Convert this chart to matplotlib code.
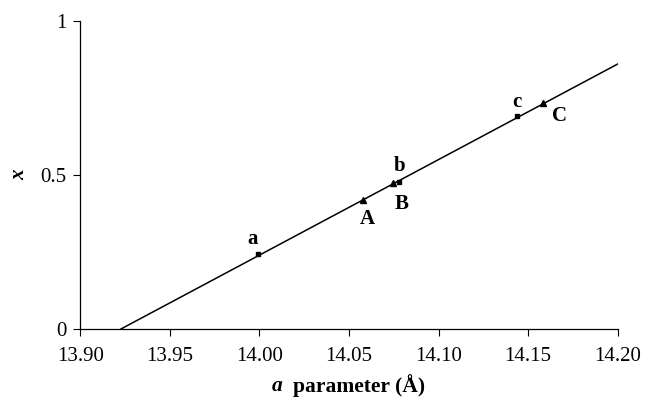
import matplotlib
matplotlib.use("Agg")
import matplotlib.pyplot as plt
import numpy as np

plt.rcParams['font.family'] = ['Liberation Serif', 'DejaVu Serif']

# fitted line (end points)
line_x = [13.9226, 14.20]
line_y = [0.0, 0.860]

# squares a, b, c
sq_x = [13.999, 14.078, 14.1437]
sq_y = [0.2435, 0.478, 0.6925]
sq_labels = ['a', 'b', 'c']

# triangles A, B, C
tri_x = [14.0577, 14.0745, 14.1586]
tri_y = [0.419, 0.473, 0.733]
tri_labels = ['A', 'B', 'C']

x_ticks = [13.90, 13.95, 14.00, 14.05, 14.10, 14.15, 14.20]
y_ticks = [0, 0.5, 1]
y_ticklabels = ['0', '0.5', '1']

fig = plt.figure(figsize=(6.46, 3.97), dpi=100)
ax = fig.add_axes([0.1246, 0.1713, 0.8313, 0.7758])

ax.plot(line_x, line_y, color='black', linewidth=1.1)
ax.plot(sq_x, sq_y, linestyle='none', marker='s', markersize=3.5, color='black')
ax.plot(tri_x, tri_y, linestyle='none', marker='^', markersize=4.5, color='black')

# label offsets in points (small letters above, capitals below-right)
sq_off = [(-3.6, 10.8), (0, 11), (0, 10)]
tri_off = [(3, -13.7), (6.5, -15), (11.5, -9.4)]
for x, y, s, o in zip(sq_x, sq_y, sq_labels, sq_off):
    ax.annotate(s, (x, y), xytext=o, textcoords='offset points',
                ha='center', va='center', fontsize=15, fontweight='bold')
for x, y, s, o in zip(tri_x, tri_y, tri_labels, tri_off):
    ax.annotate(s, (x, y), xytext=o, textcoords='offset points',
                ha='center', va='center', fontsize=15, fontweight='bold')

ax.set_xlim(13.90, 14.20)
ax.set_ylim(0, 1)
ax.set_xticks(x_ticks)
ax.set_xticklabels([f"{v:.2f}" for v in x_ticks])
ax.set_yticks(y_ticks)
ax.set_yticklabels(y_ticklabels)
ax.tick_params(direction='out', length=5, width=0.8, labelsize=15)
ax.tick_params(axis='x', pad=8)
ax.tick_params(axis='y', pad=5)

for side in ['top', 'right']:
    ax.spines[side].set_visible(False)
for side in ['left', 'bottom']:
    ax.spines[side].set_linewidth(0.9)

ax.set_ylabel('x', fontsize=15, fontweight='bold', fontstyle='italic', labelpad=8)

# x label: italic bold "a" followed by bold "parameter (Å)"
fig.text(282 / 646, 1 - 386 / 397, 'a', ha='right', va='center',
         fontsize=15.5, fontweight='bold', fontstyle='italic')
fig.text(293 / 646, 1 - 386 / 397, 'parameter (Å)', ha='left', va='center',
         fontsize=15.5, fontweight='bold')

fig.savefig('out.png', dpi=100)
